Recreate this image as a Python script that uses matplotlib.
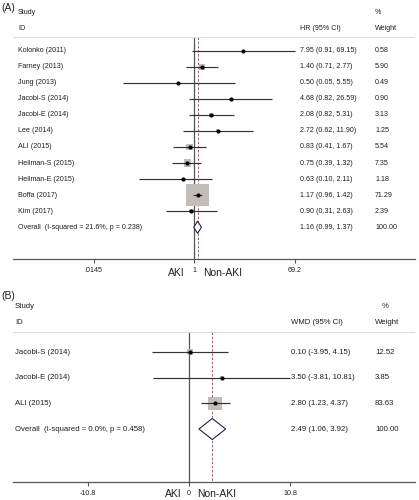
import matplotlib
matplotlib.use('Agg')
import matplotlib.pyplot as plt
from matplotlib.transforms import blended_transform_factory
import numpy as np

plt.rcParams['font.family'] = ['Liberation Sans', 'DejaVu Sans']

# ---- data: panel A (HR) ----
studies_a = ['Kolonko (2011)', 'Farney (2013)', 'Jung (2013)', 'Jacobi-S (2014)',
             'Jacobi-E (2014)', 'Lee (2014)', 'ALI (2015)', 'Heilman-S (2015)',
             'Heilman-E (2015)', 'Boffa (2017)', 'Kim (2017)']
hr_a = [7.95, 1.40, 0.50, 4.68, 2.08, 2.72, 0.83, 0.75, 0.63, 1.17, 0.90]
lo_a = [0.91, 0.71, 0.05, 0.82, 0.82, 0.62, 0.41, 0.39, 0.10, 0.96, 0.31]
hi_a = [69.15, 2.77, 5.55, 26.59, 5.31, 11.90, 1.67, 1.32, 2.11, 1.42, 2.63]
wt_a = [0.58, 5.90, 0.49, 0.90, 3.13, 1.25, 5.54, 7.35, 1.18, 71.29, 2.39]
overall_a = (1.16, 0.99, 1.37)
overall_lab_a = 'Overall  (I-squared = 21.6%, p = 0.238)'
ticks_a = [0.0145, 1, 69.2]
ticklab_a = ['.0145', '1', '69.2']

# ---- data: panel B (WMD) ----
studies_b = ['Jacobi-S (2014)', 'Jacobi-E (2014)', 'ALI (2015)']
md_b = [0.10, 3.50, 2.80]
lo_b = [-3.95, -3.81, 1.23]
hi_b = [4.15, 10.81, 4.37]
wt_b = [12.52, 3.85, 83.63]
overall_b = (2.49, 1.06, 3.92)
overall_lab_b = 'Overall  (I-squared = 0.0%, p = 0.458)'
ticks_b = [-10.8, 0, 10.8]
ticklab_b = ['-10.8', '0', '10.8']

W, H = 419, 500
fig = plt.figure(figsize=(W / 100, H / 100), dpi=100)

TXT = '#1e1e1e'
LINE = '#333333'
BOX = '#c2bdb8'


def panel(ax, labels, est, lo, hi, wt, overall, overall_lab, ticks, ticklab,
          null, measure, fs, box_k, sep_y, head_y, lab_x, eff_x, wt_x, pct_x,
          aki_off, diam_h):
    tr = blended_transform_factory(fig.transFigure, ax.transData)
    n = len(labels)
    ys = np.arange(n)
    # boxes (area ~ weight)
    side = box_k * np.sqrt(np.array(wt)) * 0.72
    ax.scatter(est, ys, marker='s', s=side ** 2, color=BOX, linewidths=0, zorder=2)
    ax.hlines(ys, lo, hi, color=LINE, lw=0.85, zorder=3)
    ax.plot(est, ys, 'o', color='black', ms=2.0, zorder=4)
    # overall diamond
    oe, ol, oh = overall
    ax.fill([ol, oe, oh, oe], [n, n - diam_h, n, n + diam_h], facecolor='white',
            edgecolor='#1f1f5e', lw=0.8, zorder=4)
    # null line + overall dashed line
    ybot = ax.get_ylim()[0]
    ax.vlines(null, sep_y, ybot, color='#555555', lw=0.9, zorder=1)
    ax.vlines(oe, sep_y, ybot, color='#b23a3a', lw=0.6, linestyles=(0, (3, 2)), zorder=1)
    ax.axhline(sep_y, color='#dcdcdc', lw=0.8)
    # text columns
    for i in range(n):
        ax.text(lab_x / W, i, labels[i], transform=tr, fontsize=fs, color=TXT, va='center')
        ax.text(eff_x / W, i, f'{est[i]:.2f} ({lo[i]:.2f}, {hi[i]:.2f})', transform=tr,
                fontsize=fs, color=TXT, va='center')
        ax.text(wt_x / W, i, f'{wt[i]:.2f}', transform=tr, fontsize=fs, color=TXT, va='center')
    ax.text(lab_x / W, n, overall_lab, transform=tr, fontsize=fs, color=TXT, va='center')
    ax.text(eff_x / W, n, f'{oe:.2f} ({ol:.2f}, {oh:.2f})', transform=tr,
            fontsize=fs, color=TXT, va='center')
    ax.text(wt_x / W, n, f'{sum(wt):.2f}', transform=tr, fontsize=fs, color=TXT, va='center')
    # headers
    ax.text(lab_x / W, head_y[0], 'Study', transform=tr, fontsize=fs, color=TXT, va='center')
    ax.text(lab_x / W, head_y[1], 'ID', transform=tr, fontsize=fs, color=TXT, va='center')
    ax.text(eff_x / W, head_y[1], measure + ' (95% CI)', transform=tr, fontsize=fs,
            color=TXT, va='center')
    ax.text(pct_x / W, head_y[0], '%', transform=tr, fontsize=fs, color=TXT, va='center')
    ax.text(wt_x / W, head_y[1], 'Weight', transform=tr, fontsize=fs, color=TXT, va='center')
    # axis
    ax.set_xticks(ticks)
    ax.set_xticklabels(ticklab)
    ax.minorticks_off()
    ax.set_yticks([])
    ax.tick_params(axis='x', length=3, width=0.8, color='#555555', labelsize=5.1,
                   labelcolor=TXT, pad=2.5)
    for s in ['top', 'left', 'right']:
        ax.spines[s].set_visible(False)
    ax.spines['bottom'].set_color('#555555')
    ax.spines['bottom'].set_linewidth(0.9)
    ax.annotate('AKI', xy=(null, 0), xycoords=('data', 'axes fraction'),
                xytext=(-aki_off[0], -aki_off[2]), textcoords='offset pixels',
                ha='right', va='center', fontsize=7.5, color=TXT)
    ax.annotate('Non-AKI', xy=(null, 0), xycoords=('data', 'axes fraction'),
                xytext=(aki_off[1], -aki_off[2]), textcoords='offset pixels',
                ha='left', va='center', fontsize=7.5, color=TXT)


# panel A geometry (pixels)
axA = fig.add_axes([13 / W, 1 - 259 / H, 402 / W, 257 / H])
axA.set_xscale('log')
dec = (295 - 94) / (np.log10(69.2) - np.log10(0.0145))
axA.set_xlim(10 ** ((13 - 194) / dec), 10 ** ((415 - 194) / dec))
rowA, y0A = 16.05, 50.7
axA.set_ylim((259 - y0A) / rowA, (2 - y0A) / rowA)
panel(axA, studies_a, hr_a, lo_a, hi_a, wt_a, overall_a, overall_lab_a, ticks_a,
      ticklab_a, 1, 'HR', 5.1, 22.5 / np.sqrt(71.29), (37 - y0A) / rowA,
      ((12 - y0A) / rowA, (28 - y0A) / rowA), 18, 300, 375, 375, (9, 9, 14), 0.38)

# panel B geometry (pixels)
axB = fig.add_axes([13 / W, 1 - 482 / H, 402 / W, 192 / H])
unit = (290 - 88) / 21.6
axB.set_xlim((13 - 189) / unit, (415 - 189) / unit)
rowB, y0B = 25.67, 352
axB.set_ylim((482 - y0B) / rowB, (290 - y0B) / rowB)
panel(axB, studies_b, md_b, lo_b, hi_b, wt_b, overall_b, overall_lab_b, ticks_b,
      ticklab_b, 0, 'WMD', 5.6, 13.5 / np.sqrt(83.63), (332 - y0B) / rowB,
      ((306 - y0B) / rowB, (323 - y0B) / rowB), 15, 291, 375, 382, (7, 8, 12), 0.41)

fig.text(1 / W, 1 - 8 / H, '(A)', fontsize=7.5, color=TXT, va='center')
fig.text(1 / W, 1 - 296 / H, '(B)', fontsize=7.5, color=TXT, va='center')

fig.savefig('out.png', dpi=100)
